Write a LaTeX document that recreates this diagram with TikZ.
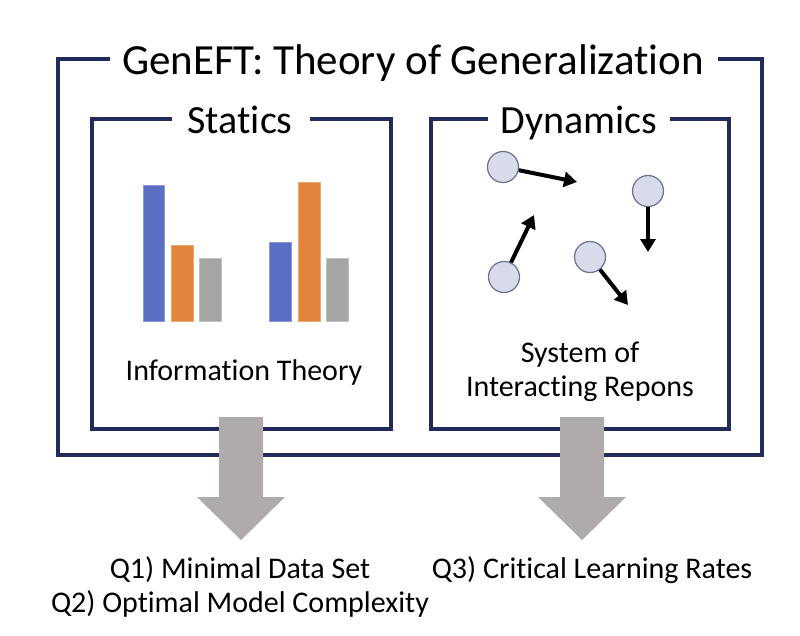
\documentclass[tikz,border=0pt]{standalone}
\usepackage{fontspec}
\setmainfont[Ligatures=NoCommon]{Carlito}
\usetikzlibrary{arrows.meta}
\definecolor{navy}{HTML}{222A5C}
\definecolor{barblue}{HTML}{5A6EC4}
\definecolor{barorange}{HTML}{E0853A}
\definecolor{bargray}{HTML}{A5A5A5}
\definecolor{bigarrow}{HTML}{AEABAA}
\definecolor{ballfill}{HTML}{D8DBEA}
\definecolor{balledge}{HTML}{6B7091}
\tikzset{
  frame/.style={draw=navy, line width=4pt, line join=miter},
  titletext/.style={inner sep=0pt, anchor=base, font=\fontsize{43}{50}\selectfont},
  subtext/.style={inner sep=0pt, anchor=base, font=\fontsize{40}{48}\selectfont},
  bodytext/.style={inner sep=0pt, anchor=base, font=\fontsize{30}{36}\selectfont},
  bar/.style={line width=0.8pt},
  ball/.style={circle, fill=ballfill, draw=balledge, line width=1.2pt, minimum size=31pt, inner sep=0pt},
  motion/.style={line width=4pt, -{Triangle[length=13pt,width=15pt]}},
  bigdown/.style={fill=bigarrow, draw=none}
}
\begin{document}
\begin{tikzpicture}[x=1pt,y=-1pt]
\useasboundingbox (0,0) rectangle (800,635);
\fill[white] (0,0) rectangle (800,635);
% frames
\draw[frame] (110,59) -- (58,59) -- (58,455) -- (762,455) -- (762,59) -- (718,59);
\draw[frame] (172,119) -- (92,119) -- (92,429) -- (391,429) -- (391,119) -- (310,119);
\draw[frame] (488,119) -- (431,119) -- (431,429) -- (729,429) -- (729,119) -- (670,119);
% titles
\node[titletext] (title) at (413,74) {GenEFT: Theory of Generalization};
\node[subtext] (statics) at (240,133) {Statics};
\node[subtext] (dynamics) at (579,133) {Dynamics};
% bars
\filldraw[bar, fill=barblue, draw=barblue!70!white] (143,185) rectangle (164,321);
\filldraw[bar, fill=barorange, draw=barorange!70!white] (171,245) rectangle (193,321);
\filldraw[bar, fill=bargray, draw=bargray!70!white] (199,258) rectangle (221,321);
\filldraw[bar, fill=barblue, draw=barblue!70!white] (269,242) rectangle (291,321);
\filldraw[bar, fill=barorange, draw=barorange!70!white] (298,182) rectangle (320,321);
\filldraw[bar, fill=bargray, draw=bargray!70!white] (326,258) rectangle (348,321);
% texts
\node[bodytext] (info) at (244,380) {Information Theory};
\node[bodytext] (sys1) at (580,362) {System of};
\node[bodytext] (sys2) at (580,396) {Interacting Repons};
% balls
\node[ball] (c1) at (503,167) {};
\node[ball] (c2) at (648,191) {};
\node[ball] (c3) at (504,277) {};
\node[ball] (c4) at (590,257) {};
\coordinate (t1) at (577,182);
\coordinate (t2) at (648,252);
\coordinate (t3) at (534,215);
\coordinate (t4) at (628,305);
\draw[motion] (c1) -- (t1);
\draw[motion] (c2) -- (t2);
\draw[motion] (c3) -- (t3);
\draw[motion] (c4) -- (t4);
% big arrows
\fill[bigdown] (219,417) -- (263,417) -- (263,497) -- (285,497) -- (241,540) -- (197,497) -- (219,497) -- cycle;
\fill[bigdown] (560,417) -- (604,417) -- (604,497) -- (626,497) -- (582,540) -- (538,497) -- (560,497) -- cycle;
% questions
\node[bodytext] (q1) at (240,578) {Q1) Minimal Data Set};
\node[bodytext] (q2) at (240,612) {Q2) Optimal Model Complexity};
\node[bodytext] (q3) at (592,578) {Q3) Critical Learning Rates};
\end{tikzpicture}
\end{document}
